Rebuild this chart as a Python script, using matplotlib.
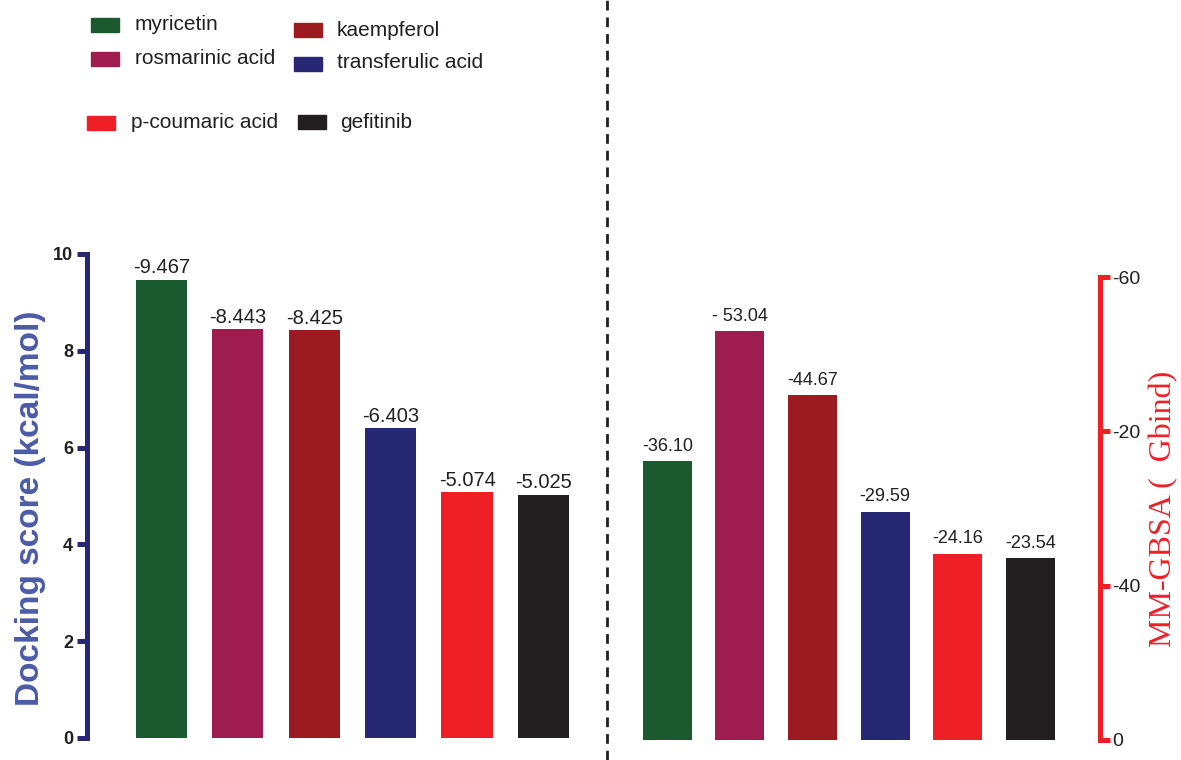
import matplotlib.pyplot as plt
from matplotlib.patches import Rectangle
from matplotlib.lines import Line2D

# compostos e cores
compounds = ["myricetin", "rosmarinic acid", "kaempferol", "transferulic acid",
             "p-coumaric acid", "gefitinib"]
colors = ["#1a5a2e", "#9e1c4e", "#9c1b20", "#262874", "#ee1f25", "#231f20"]

docking = [9.467, 8.443, 8.425, 6.403, 5.074, 5.025]       # kcal/mol (valor absoluto)
docking_lbl = ["-9.467", "-8.443", "-8.425", "-6.403", "-5.074", "-5.025"]
mmgbsa = [36.10, 53.04, 44.67, 29.59, 24.16, 23.54]        # valor absoluto
mmgbsa_lbl = ["-36.10", "- 53.04", "-44.67", "-29.59", "-24.16", "-23.54"]

left_ticks = [0, 2, 4, 6, 8, 10]
right_ticks = [0, 20, 40, 60]
right_ticklbl = ["0", "-40", "-20", "-60"]   # como no original

W, H = 1181, 760
fig = plt.figure(figsize=(W/100, H/100), dpi=100)
plt.rcParams['font.family'] = ['Liberation Sans', 'DejaVu Sans']

def px(x0, y0, x1, y1):
    # caixa em pixels (origem no topo) -> fracao da figura
    return [x0/W, 1 - y1/H, (x1-x0)/W, (y1-y0)/H]

navy = "#262874"
red = "#ee1f25"

# ---- painel esquerdo: docking ----
ax1 = fig.add_axes(px(87, 254, 600, 738))
xs = range(len(docking))
ax1.bar(xs, docking, width=0.67, color=colors)
for x, v, s in zip(xs, docking, docking_lbl):
    ax1.text(x, v + 0.05, s, ha='center', va='bottom', fontsize=14.5, color='#231f20')
ax1.set_xlim(-0.975, 5.74); ax1.set_ylim(0, 10)
for sp in ['top', 'right', 'bottom']: ax1.spines[sp].set_visible(False)
ax1.spines['left'].set_color(navy); ax1.spines['left'].set_linewidth(3.6)
ax1.set_xticks([])
ax1.set_yticks(left_ticks)
ax1.tick_params(axis='y', colors=navy, width=3.6, length=7, labelcolor='#231f20',
                labelsize=13, pad=3)
for t in ax1.get_yticklabels(): t.set_fontweight('bold')
ax1.set_ylabel("Docking score (kcal/mol)", fontsize=24, fontweight='bold',
               color='#4b5ba6')
ax1.yaxis.set_label_coords(-0.08, 0.475)

# ---- painel direito: MM-GBSA ----
ax2 = fig.add_axes(px(615, 277, 1100, 740))
ax2.bar(xs, mmgbsa, width=0.675, color=colors)
for x, v, s in zip(xs, mmgbsa, mmgbsa_lbl):
    ax2.text(x, v + 0.8, s, ha='center', va='bottom', fontsize=13, color='#231f20')
ax2.set_xlim(-0.72, 5.96); ax2.set_ylim(0, 60)
for sp in ['top', 'left', 'bottom']: ax2.spines[sp].set_visible(False)
ax2.spines['right'].set_color(red); ax2.spines['right'].set_linewidth(3.6)
ax2.set_xticks([])
ax2.yaxis.tick_right(); ax2.yaxis.set_label_position('right')
ax2.set_yticks(right_ticks); ax2.set_yticklabels(right_ticklbl)
ax2.tick_params(axis='y', colors=red, width=3.6, length=7, labelcolor='#231f20',
                labelsize=14, pad=2)
ax2.set_ylabel("MM-GBSA (  Gbind)", fontsize=23, color=red, family='Liberation Serif',
               rotation=90, labelpad=6)

# linha tracejada separando os paineis
fig.add_artist(Line2D([607/W, 607/W], [0, 1], color='#231f20', lw=2,
                      ls=(0, (3.5, 2.5))))

# ---- legenda manual ----
leg = [(91, 18, 135, 25), (91, 52, 135, 59), (294, 23, 337, 30),
       (294, 57, 337, 63), (87, 116, 131, 123), (298, 115, 340, 122)]
for (bx, by, tx, ty), name, c in zip(leg, compounds, colors):
    fig.add_artist(Rectangle((bx/W, 1 - (by+14)/H), 28/W, 14/H, color=c,
                             transform=fig.transFigure))
    fig.text(tx/W, 1 - ty/H, name, fontsize=15, va='center', ha='left',
             color='#231f20')

plt.savefig('out.png', dpi=100)
